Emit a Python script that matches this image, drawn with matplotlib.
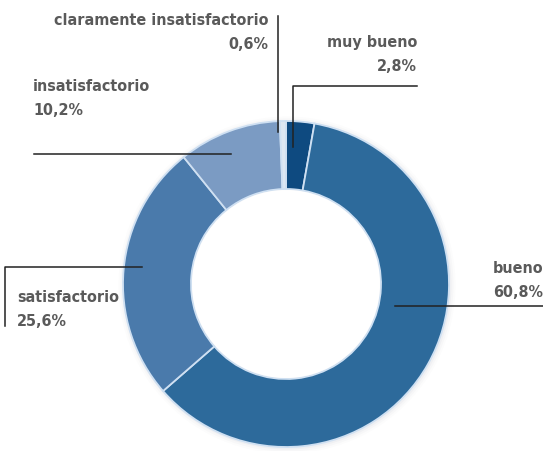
import matplotlib
matplotlib.use("Agg")
import matplotlib.pyplot as plt

# Datos
categorias = ["muy bueno", "bueno", "satisfactorio", "insatisfactorio",
              "claramente insatisfactorio"]
valores = [2.8, 60.8, 25.6, 10.2, 0.6]
etiquetas_pct = ["2,8%", "60,8%", "25,6%", "10,2%", "0,6%"]
colores = ["#0e4a80", "#2d6a9b", "#4a7aab", "#7b9bc3", "#dde7f2"]

W, H = 543, 452
fig = plt.figure(figsize=(W / 100, H / 100), dpi=100)
ax = fig.add_axes([0, 0, 1, 1])

cx, cy, r = 286, H - 285, 163

# sombra suave alrededor del anillo
for i, a in enumerate([0.06, 0.04, 0.025]):
    ax.add_patch(plt.Circle((cx + 1, cy - 1), r + 1.5 + i * 2,
                            color="#8090a0", alpha=a, lw=0))

ax.pie(valores, colors=colores, startangle=90, counterclock=False,
       center=(cx, cy), radius=r, frame=True,
       wedgeprops=dict(width=68, edgecolor="#cfe0f2", linewidth=1.3))
ax.add_patch(plt.Circle((cx, cy), r - 69, color="white", lw=0, zorder=5))
ax.set_xlim(0, W)
ax.set_ylim(0, H)
ax.set_aspect("equal")
ax.axis("off")

fuente = dict(family="DejaVu Sans", fontstretch="condensed", fontweight="semibold",
              color="#5a5a5a", fontsize=11.5)
linea = dict(color="#222222", lw=1.1)

def Y(y):
    return H - y

# claramente insatisfactorio
ax.text(268, Y(25), "claramente insatisfactorio", ha="right", va="baseline", **fuente)
ax.text(268, Y(49), etiquetas_pct[4], ha="right", va="baseline", **fuente)
ax.plot([278, 278], [Y(17), Y(133)], **linea)

# muy bueno
ax.text(417, Y(47), categorias[0], ha="right", va="baseline", **fuente)
ax.text(417, Y(71), etiquetas_pct[0], ha="right", va="baseline", **fuente)
ax.plot([417, 293, 293], [Y(87), Y(87), Y(148)], **linea)

# insatisfactorio
ax.text(33, Y(91), categorias[3], ha="left", va="baseline", **fuente)
ax.text(33, Y(115), etiquetas_pct[3], ha="left", va="baseline", **fuente)
ax.plot([34, 231], [Y(155), Y(155)], **linea)

# satisfactorio
ax.text(17, Y(302), categorias[2], ha="left", va="baseline", **fuente)
ax.text(17, Y(326), etiquetas_pct[2], ha="left", va="baseline", **fuente)
ax.plot([142, 5, 5], [Y(268), Y(268), Y(327)], **linea)

# bueno
ax.text(543, Y(273), categorias[1], ha="right", va="baseline", **fuente)
ax.text(543, Y(297), etiquetas_pct[1], ha="right", va="baseline", **fuente)
ax.plot([395, 543], [Y(307), Y(307)], **linea)

fig.savefig("out.png", dpi=100)
